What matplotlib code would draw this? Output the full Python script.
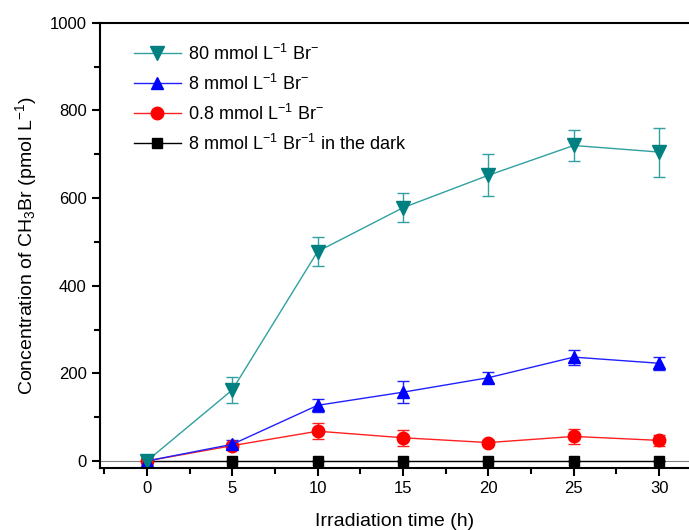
import matplotlib
matplotlib.use('Agg')
import matplotlib.pyplot as plt
from matplotlib.ticker import MultipleLocator

plt.rcParams['font.family'] = ['Liberation Sans', 'DejaVu Sans']
plt.rcParams['mathtext.default'] = 'regular'

# irradiation time (h)
time_h = [0, 5, 10, 15, 20, 25, 30]

# CH3Br concentration (pmol/L) and standard deviations
br_80 = [0, 162, 478, 578, 652, 720, 705]
br_80_err = [0, 30, 33, 33, 48, 35, 56]
br_8 = [0, 38, 127, 157, 190, 237, 223]
br_8_err = [0, 10, 15, 25, 12, 17, 15]
br_08 = [0, 35, 68, 53, 42, 56, 47]
br_08_err = [0, 5, 18, 18, 5, 18, 13]
dark_8 = [0, 0, 0, 0, 0, 0, 0]
dark_8_err = [0, 0, 0, 0, 0, 0, 0]

series = [
    (dark_8, dark_8_err, 's', 'black', 'black',
     '8 mmol L$^{-1}$ Br$^{-1}$ in the dark', 7),
    (br_08, br_08_err, 'o', '#ff2020', 'red',
     '0.8 mmol L$^{-1}$ Br$^{-}$', 9),
    (br_8, br_8_err, '^', '#2020ff', 'blue',
     '8 mmol L$^{-1}$ Br$^{-}$', 9),
    (br_80, br_80_err, 'v', '#30a0a0', '#008080',
     '80 mmol L$^{-1}$ Br$^{-}$', 10),
]

fig = plt.figure(figsize=(6.89, 5.30), dpi=100)
ax = fig.add_axes([0.145, 0.117, 0.855, 0.84])

handles = []
for vals, errs, mk, lc, mc, lab, ms in series:
    h = ax.errorbar(time_h, vals, yerr=errs, marker=mk, color=lc,
                    markerfacecolor=mc, markeredgecolor=mc, markersize=ms,
                    linewidth=1, elinewidth=1, capsize=4, capthick=1,
                    ecolor=lc, label=lab)
    # legend shows only line and marker
    handles.append(h[0])

ax.axhline(0, color='#808080', linewidth=0.8, zorder=0)

ax.set_xlim(-2.75, 31.75)
ax.set_ylim(-16, 1000)
ax.xaxis.set_major_locator(MultipleLocator(5))
ax.xaxis.set_minor_locator(MultipleLocator(2.5))
ax.yaxis.set_major_locator(MultipleLocator(200))
ax.yaxis.set_minor_locator(MultipleLocator(100))
ax.tick_params(which='both', direction='out', width=1.5, labelsize=12)
ax.tick_params(which='major', length=6)
ax.tick_params(which='minor', length=4)
for side in ['left', 'bottom', 'top']:
    ax.spines[side].set_linewidth(1.5)
ax.spines['right'].set_visible(False)

ax.set_xlabel('Irradiation time (h)', fontsize=14, labelpad=12)
ax.set_ylabel('Concentration of CH$_3$Br (pmol L$^{-1}$)', fontsize=14,
              labelpad=8)

ax.legend(handles[::-1], [s[5] for s in series[::-1]], loc='upper left',
          bbox_to_anchor=(0.03, 0.99), frameon=False, fontsize=13,
          handlelength=2.6, labelspacing=0.55, handletextpad=0.4)

fig.savefig('out.png', dpi=100)
